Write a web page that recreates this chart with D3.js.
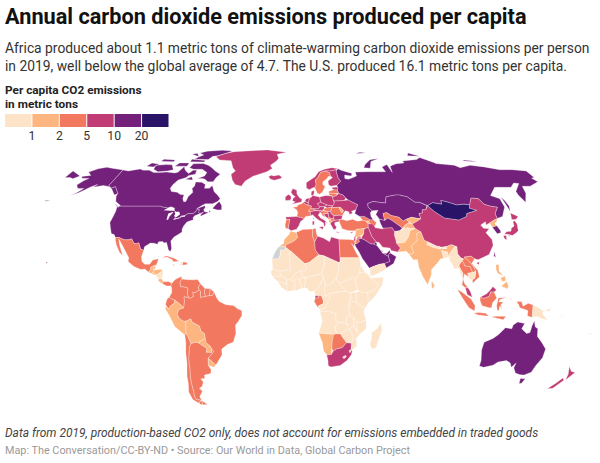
<!DOCTYPE html>
<html>
<head>
<meta charset="utf-8">
<script src="https://cdn.jsdelivr.net/npm/d3@7"></script>
<style>
  body { margin: 0; background: #fff; }
  text { font-family: Roboto, sans-serif; }
</style>
</head>
<body>
<svg id="chart" width="600" height="463"></svg>
<script>
// legend bins
const binLimits = [1, 2, 5, 10, 20];
const binColors = ['#fde3c8', '#fdb680', '#f2785f', '#c13c75', '#73217a', '#2a1467'];
const noDataColor = '#d0d3d6';

// per capita values (same order in both arrays)
const countries = [
  'USA', 'Canada', 'Greenland', 'Iceland', 'Mexico', 'Guatemala', 'Belize', 'Honduras', 'Salvador', 'Nicaragua', 'CostaRica', 'Panama', 'Cuba', 'Haiti', 'Dominican', 'Jamaica',
  'Colombia', 'Venezuela', 'Guyana', 'Suriname', 'Ecuador', 'Peru', 'Bolivia', 'Paraguay', 'Chile', 'Argentina', 'Uruguay', 'Brazil',
  'UK', 'Ireland', 'France', 'Spain', 'Portugal', 'Belgium', 'Netherlands', 'Germany', 'Denmark', 'Switzerland', 'Austria', 'Italy', 'Poland', 'Czechia', 'Slovakia', 'Hungary', 'Norway', 'Sweden', 'Finland', 'Estonia', 'Latvia', 'Lithuania', 'Belarus', 'Ukraine', 'Moldova', 'Romania', 'Bulgaria', 'Greece', 'Albania', 'Macedonia', 'Serbia', 'Montenegro', 'Bosnia', 'Croatia', 'Slovenia',
  'Turkey', 'Cyprus', 'Georgia', 'Armenia', 'Azerbaijan', 'Russia', 'Kazakhstan', 'Uzbekistan', 'Turkmenistan', 'Kyrgyzstan', 'Tajikistan', 'Afghanistan', 'Pakistan', 'Iran', 'Iraq', 'Syria', 'Jordan', 'Israel', 'Lebanon', 'SaudiArabia', 'Kuwait', 'Qatar', 'UAE', 'Oman', 'Yemen',
  'Morocco', 'WesternSahara', 'Algeria', 'Tunisia', 'Libya', 'Egypt', 'Mauritania', 'Mali', 'Senegal', 'Guinea', 'Liberia', 'IvoryCoast', 'Ghana', 'Benin', 'BurkinaFaso', 'Niger', 'Nigeria', 'Chad', 'Sudan', 'SouthSudan', 'Ethiopia', 'Eritrea', 'Somalia', 'Kenya', 'Uganda', 'Burundi', 'Tanzania', 'Cameroon', 'CAR', 'EqGuinea', 'Gabon', 'Congo', 'DRC', 'Angola', 'Zambia', 'Malawi', 'Mozambique', 'Zimbabwe', 'Botswana', 'Namibia', 'SouthAfrica', 'Lesotho', 'Eswatini', 'Madagascar',
  'China', 'Taiwan', 'Mongolia', 'NorthKorea', 'SouthKorea', 'Japan', 'India', 'Bangladesh', 'Nepal', 'Bhutan', 'SriLanka', 'Myanmar', 'Thailand', 'Laos', 'Vietnam', 'Cambodia', 'Malaysia', 'Indonesia', 'PNG', 'Philippines', 'Australia', 'NewZealand', 'Fiji', 'Solomon'
];
const co2PerCapita = [
  16.1, 15.4, 9.6, 9.9, 3.6, 1.1, 1.7, 1.1, 1.2, 0.8, 1.6, 2.6, 2.3, 0.3, 2.5, 2.7,
  2.0, 3.3, 3.0, 3.5, 2.4, 1.7, 1.9, 1.1, 4.6, 4.0, 1.9, 2.3,
  5.5, 7.8, 4.8, 5.4, 4.6, 8.3, 8.8, 8.4, 5.2, 4.3, 7.6, 5.4, 8.5, 9.4, 6.1, 4.9, 7.5, 4.0, 7.3, 8.5, 3.9, 4.4, 6.6, 5.0, 1.4, 4.0, 6.2, 5.8, 1.7, 3.4, 6.5, 4.1, 6.8, 4.4, 7.0,
  4.9, 6.1, 2.6, 1.9, 3.6, 11.4, 14.0, 3.3, 12.0, 1.6, 1.0, 0.3, 1.1, 8.5, 5.0, 1.4, 2.5, 7.0, 5.5, 18.0, 25.0, 38.0, 19.0, 15.0, 0.4,
  1.9, null, 3.9, 2.6, 8.3, 2.5, 0.9, 0.2, 0.6, 0.3, 0.3, 0.4, 0.6, 0.4, 0.2, 0.1, 0.6, 0.1, 0.5, 0.1, 0.2, 0.2, 0.1, 0.4, 0.1, 0.1, 0.2, 0.3, 0.1, 5.5, 2.8, 0.6, 0.04, 0.7, 0.4, 0.1, 0.3, 0.7, 3.0, 1.6, 7.5, 0.9, 0.9, 0.1,
  7.1, 11.0, 20.5, 1.6, 12.2, 8.7, 1.9, 0.6, 0.5, 0.9, 1.0, 0.6, 3.7, 2.6, 3.5, 0.9, 8.0, 2.3, 0.8, 1.3, 16.3, 6.9, 1.5, 0.3
];

// tick labels and texts
const legendTicks = ['1', '2', '5', '10', '20'];
const titleText = 'Annual carbon dioxide emissions produced per capita';
const subtitleLines = [
  'Africa produced about 1.1 metric tons of climate-warming carbon dioxide emissions per person',
  'in 2019, well below the global average of 4.7. The U.S. produced 16.1 metric tons per capita.'
];
const legendLines = ['Per capita CO2 emissions', 'in metric tons'];
const noteText = 'Data from 2019, production-based CO2 only, does not account for emissions embedded in traded goods';
const sourceText = 'Map: The Conversation/CC-BY-ND • Source: Our World in Data, Global Carbon Project';

// rough country outlines, lon/lat rings
const outlines = {
  USA: [
    [[-124.7,48.4],[-123,49],[-95.2,49],[-94.6,48.7],[-92,48.3],[-89.6,48],[-88.4,48.3],[-84.9,46.9],[-84.5,46.5],[-83.6,46.1],[-82.5,45.3],[-82.4,43],[-83,42.2],[-79,42.8],[-79,43.3],[-76.5,43.6],[-76.3,44.2],[-74.7,45],[-71.5,45],[-70.3,45.9],[-69.2,47.4],[-68,47.3],[-67.8,45.7],[-67,44.9],[-70,43.8],[-70.7,42.7],[-70,41.7],[-72,41.2],[-74,40.6],[-75.4,38.5],[-75.9,36.8],[-75.5,35.3],[-77.9,33.9],[-79.9,32.7],[-81.4,30.7],[-80,26.8],[-80.4,25.2],[-81.8,26],[-82.8,28],[-84,30.1],[-85.3,29.7],[-86.5,30.4],[-89,30.3],[-89.4,29],[-91.5,29.5],[-94,29.6],[-97.2,27.7],[-97.2,25.9],[-99.2,26.4],[-101.4,29.8],[-102.8,29.2],[-104.5,29.6],[-106.5,31.8],[-108.2,31.3],[-111,31.3],[-114.8,32.5],[-117.1,32.5],[-118.5,34],[-120.6,34.6],[-122.5,37.5],[-124.3,40.3],[-124,43],[-124,46.2]],
    [[-141,69.6],[-141,60.3],[-137.5,58.9],[-135.5,59.8],[-133.5,58.4],[-130,55.9],[-131.7,55],[-134,56.5],[-136.5,58.2],[-140,59.7],[-145,60.4],[-148,60],[-151.5,59.3],[-150,61],[-153.5,59.5],[-156,57.8],[-158.5,56.2],[-163,54.8],[-160,56.3],[-157.5,58.7],[-162,58.7],[-165,60.6],[-163,63.2],[-161,64.5],[-166.5,64.6],[-168,65.7],[-162,66.3],[-166.5,68.3],[-162,70.3],[-156.5,71.3],[-150,70.5],[-145,70]],
    [[-155.9,19.9],[-155,19.6],[-155.6,19]],
    [[-170,52.8],[-166,53.7],[-168,53.2]],
    [[-178,51.8],[-174,52.2],[-176,51.6]]
  ],
  Canada: [
    [[-141,69.6],[-136,69],[-133,69.5],[-128,70.2],[-125,69.5],[-120,69.5],[-115,68],[-110,68],[-105,68.3],[-98,67.8],[-96,68.2],[-94,71.8],[-92,70],[-90,68.8],[-87,67.5],[-85,69.5],[-82,69.5],[-81.5,67],[-86,66.3],[-87,65],[-92,63.5],[-94,61],[-94.5,58.8],[-92.5,57],[-88,56.5],[-85,55.3],[-82.3,55.1],[-82,53],[-80.5,51.3],[-79,51.5],[-78.8,54],[-76.7,56.5],[-78.5,58.7],[-77.5,60],[-78,62.4],[-73.5,62.3],[-70,61],[-69.5,58.8],[-66,58.8],[-64.5,60.3],[-61.5,56.8],[-58,54.8],[-55.8,53],[-57,51.5],[-60,50.2],[-65,50.3],[-67,49.3],[-70,47.5],[-65,49.2],[-64.3,48.3],[-65,47],[-64,46],[-61,45.5],[-61,46.8],[-60,46],[-63.5,44.6],[-66,43.6],[-66,44.6],[-64.5,45.8],[-67,44.9],[-67.8,45.7],[-68,47.3],[-69.2,47.4],[-70.3,45.9],[-71.5,45],[-74.7,45],[-76.3,44.2],[-76.5,43.6],[-79,43.3],[-79,42.8],[-83,42.2],[-82.4,43],[-82.5,45.3],[-83.6,46.1],[-84.5,46.5],[-84.9,46.9],[-88.4,48.3],[-89.6,48],[-92,48.3],[-94.6,48.7],[-95.2,49],[-123,49],[-123,49.3],[-125,50.2],[-127.8,51.5],[-130,54.5],[-130,55.9],[-133.5,58.4],[-135.5,59.8],[-137.5,58.9],[-141,60.3]],
    [[-80,73.7],[-75,72.5],[-71,71],[-67,69],[-62,67],[-64,65],[-65,62.5],[-69,62.5],[-72,64],[-74,64.5],[-78,64.5],[-73.5,66],[-73,68],[-78,70],[-85,70],[-89,71],[-88,73.5]],
    [[-117,70],[-112,68.5],[-105,69],[-101,69.7],[-105,72.8],[-110,73],[-118,72.5]],
    [[-125,72],[-123,74],[-116,73.2],[-119,71.5]],
    [[-90,76.5],[-78,76.3],[-76,78.5],[-72,79],[-64,81.5],[-62,82.5],[-72,83.1],[-85,82.4],[-90,81],[-85,79.5],[-88,78]],
    [[-92,74.8],[-80,74.6],[-80,75.7],[-92,76.5]],
    [[-117,75.2],[-106,74.9],[-106,76],[-116,76.5]],
    [[-96,80],[-88,78.3],[-92,80.7]],
    [[-102,72],[-92,72],[-92,74],[-100,74]],
    [[-87,64],[-81,63.5],[-83,65.5]],
    [[-59.3,47.7],[-55.5,46.9],[-52.8,47],[-53.5,49.3],[-55.8,51.5],[-57.5,50]],
    [[-128.3,50.7],[-123.5,48.4],[-125,48.8]]
  ],
  Greenland: [[[-73,78.2],[-68,76],[-58,75.5],[-54,71],[-51,69],[-53.5,67],[-51,63.5],[-48,61],[-43,60],[-41,63],[-36,65.8],[-26,68.5],[-22,70.5],[-24,72.5],[-20,75],[-18,77],[-20,80],[-12,81.5],[-30,83.5],[-45,82.8],[-60,82],[-65,81],[-68,80]]],
  Iceland: [[[-24,65.5],[-22,64],[-19,63.4],[-14.5,64.4],[-13.5,65.2],[-16,66.5],[-20,66],[-22,66.4]]],
  Mexico: [[[-117.1,32.5],[-114.8,32.5],[-111,31.3],[-108.2,31.3],[-106.5,31.8],[-104.5,29.6],[-102.8,29.2],[-101.4,29.8],[-99.2,26.4],[-97.2,25.9],[-97.8,22.5],[-97,20],[-95,18.6],[-92,18.6],[-90.5,20.8],[-87,21.5],[-87.8,18.3],[-89,17.9],[-91,17.2],[-91,16],[-92.2,14.5],[-94.5,16.2],[-97,15.9],[-101.5,17.5],[-105.5,20],[-105.5,22],[-109,26],[-112.8,30],[-114.7,31.7],[-113,28.5],[-109.5,23],[-112,24.8],[-115,28.5],[-116.5,31]]],
  Guatemala: [[[-92.2,14.5],[-91,16],[-91,17.2],[-89.2,17.8],[-89.2,15.9],[-88.2,15.7],[-89.3,14.4],[-90.2,13.8]]],
  Belize: [[[-89.2,17.8],[-88.2,18.4],[-88.2,16],[-89.2,15.9]]],
  Honduras: [[[-89.2,15],[-88.2,15.7],[-85,16],[-83.2,15],[-84.5,14.7],[-87,13],[-87.8,13.3],[-89.3,14.4]]],
  Salvador: [[[-90.2,13.8],[-89.3,14.4],[-87.8,13.3],[-88.5,13.1]]],
  Nicaragua: [[[-87,13],[-84.5,14.7],[-83.2,15],[-83.6,11],[-85.7,11],[-87.5,12.8]]],
  CostaRica: [[[-85.7,11],[-83.6,11],[-82.6,9.5],[-83,8.3],[-85.7,9.9]]],
  Panama: [[[-83,8.3],[-82.6,9.5],[-79.5,9.6],[-77.4,8.7],[-78,7.3],[-80.5,7.3],[-81.5,7.8]]],
  Cuba: [[[-85,21.9],[-82.5,23.1],[-77,21.6],[-74.2,20.2],[-77.7,19.9],[-78.5,21],[-82,22.4]]],
  Haiti: [[[-74.4,18.4],[-71.7,18.1],[-71.7,19.8],[-73.4,19.9],[-72.7,18.9]]],
  Dominican: [[[-71.7,18.1],[-68.4,18.6],[-69.9,19.7],[-71.7,19.8]]],
  Jamaica: [[[-78.3,18.3],[-76.3,18],[-77.2,18.5]]],
  Colombia: [[[-77.4,8.7],[-75.5,10.7],[-72,12.2],[-71.3,11.5],[-72.5,9],[-72,7],[-70,6.9],[-67.5,6.2],[-67.8,3.5],[-67,1.2],[-69.8,1.7],[-69.5,-0.5],[-70,-4.2],[-72,-2.4],[-75.3,-0.1],[-77,0.4],[-78.8,1.4],[-77.2,3.8],[-77.4,6.5],[-78,7.3]]],
  Venezuela: [[[-72,12.2],[-71.5,10.9],[-68,10.6],[-64,10.5],[-61.9,10.7],[-60,8.5],[-61.3,6.7],[-60.7,5.2],[-63,3.8],[-64.5,4],[-64,1.8],[-66.3,0.8],[-67,1.2],[-67.8,3.5],[-67.5,6.2],[-70,6.9],[-72,7],[-72.5,9],[-71.3,11.5]]],
  Guyana: [[[-60,8.5],[-57.2,6],[-57.5,3.3],[-56.5,1.9],[-59.8,1.3],[-60,3],[-59.8,4.5],[-60.7,5.2],[-61.3,6.7]]],
  Suriname: [[[-57.2,6],[-54,5.9],[-54.4,2.3],[-56.5,1.9],[-57.5,3.3]]],
  Ecuador: [[[-78.8,1.4],[-77,0.4],[-75.3,-0.1],[-75.5,-1.5],[-78.3,-3.4],[-79,-5],[-80.3,-3.4],[-81,-2.2],[-80,0.5]]],
  Peru: [[[-81.3,-4.5],[-80.3,-3.4],[-79,-5],[-78.3,-3.4],[-75.5,-1.5],[-75.3,-0.1],[-72,-2.4],[-70,-4.2],[-73,-5],[-74,-7.3],[-73,-9.5],[-70.6,-11],[-69,-11],[-69.4,-15.5],[-69.5,-17.5],[-70.4,-18.3],[-76,-14],[-79,-8]]],
  Bolivia: [[[-69,-11],[-66,-9.8],[-65.3,-11.5],[-61,-13.5],[-60.2,-16.3],[-58.2,-17.5],[-58,-20],[-62.7,-22.2],[-65,-22.1],[-67.2,-22.8],[-68.5,-19.5],[-69.5,-17.5],[-69.4,-15.5]]],
  Paraguay: [[[-58,-20],[-57.8,-22.2],[-55.5,-24],[-54.6,-25.5],[-55,-27.3],[-58.5,-27.2],[-57.7,-25.3],[-62.7,-22.2]]],
  Chile: [
    [[-70.4,-18.3],[-69.5,-17.5],[-68.5,-19.5],[-67.2,-22.8],[-68.4,-24.5],[-69.8,-30],[-70.3,-33],[-70.5,-36],[-71.5,-40],[-71.8,-44],[-72,-48],[-72.5,-50],[-72,-52],[-69,-52.3],[-71,-54],[-74.5,-52],[-75.5,-48],[-74,-43.5],[-73.5,-39.5],[-71.7,-33],[-71.3,-28],[-70.3,-22]],
    [[-68.6,-52.6],[-68.6,-54.9],[-71,-54.5],[-70,-53]]
  ],
  Argentina: [
    [[-65,-22.1],[-62.7,-22.2],[-57.7,-25.3],[-58.5,-27.2],[-55,-27.3],[-54.6,-25.5],[-53.7,-26.9],[-57.6,-30.2],[-58.3,-34],[-57,-36.3],[-57.7,-38.2],[-62,-39],[-62.3,-40.8],[-65,-41],[-63.8,-42.6],[-65.3,-45],[-67.5,-46],[-66,-47.5],[-69,-50.5],[-68.4,-52.3],[-72,-52],[-72.5,-50],[-72,-48],[-71.8,-44],[-71.5,-40],[-70.5,-36],[-70.3,-33],[-69.8,-30],[-68.4,-24.5],[-67.2,-22.8]],
    [[-68.6,-52.6],[-65.2,-54.7],[-68.6,-54.9]]
  ],
  Uruguay: [[[-57.6,-30.2],[-53.4,-33.8],[-54.9,-35],[-58.3,-34]]],
  Brazil: [[[-51.7,4.2],[-50,1],[-48.5,-0.8],[-44.5,-2.5],[-40,-2.9],[-37,-4.8],[-35,-5.5],[-34.9,-8],[-37,-11],[-39,-13],[-39,-17.5],[-41,-22],[-44.5,-23.1],[-48.5,-25.5],[-48.7,-28.5],[-52,-32.3],[-53.4,-33.8],[-57.6,-30.2],[-53.7,-26.9],[-54.6,-25.5],[-55.5,-24],[-57.8,-22.2],[-58,-20],[-58.2,-17.5],[-60.2,-16.3],[-61,-13.5],[-65.3,-11.5],[-66,-9.8],[-69,-11],[-70.6,-11],[-73,-9.5],[-74,-7.3],[-73,-5],[-70,-4.2],[-69.5,-0.5],[-69.8,1.7],[-67,1.2],[-66.3,0.8],[-64,1.8],[-64.5,4],[-63,3.8],[-60.7,5.2],[-59.8,4.5],[-60,3],[-59.8,1.3],[-56.5,1.9],[-54.4,2.3],[-52.8,2.3]]],
  UK: [[[-5.5,50],[1.3,51.2],[1.7,52.7],[0,53.5],[-1.6,55.2],[-2,56],[-2,57.6],[-5,58.6],[-6.2,56.5],[-4.8,55],[-3,54],[-4.5,53.3],[-5,51.7],[-3,51.3]]],
  Ireland: [[[-10,52],[-6.3,52.2],[-6,53.5],[-6.2,54.5],[-8,55.3],[-10,54]]],
  France: [
    [[-1.8,43.4],[3.1,42.4],[4,43.5],[7.5,43.8],[7,45.9],[6,46.3],[7.6,47.6],[8.2,49],[6,49.5],[4.2,50],[2.5,51],[1.5,50.2],[-1.3,49.6],[-1.6,48.6],[-4.7,48.4],[-2,47],[-1.2,45.5]],
    [[8.7,42.5],[9.5,43],[9.3,41.5]],
    [[-54,5.9],[-51.7,4.2],[-52.8,2.3],[-54.4,2.3]]
  ],
  Spain: [[[-9.2,43.2],[-1.8,43.4],[3.1,42.4],[0.5,40.7],[-0.4,38.7],[-2,36.8],[-5.5,36],[-7.4,37.2],[-7,39.5],[-6.5,41.9],[-8.8,41.9]]],
  Portugal: [[[-8.8,41.9],[-6.5,41.9],[-7,39.5],[-7.4,37.2],[-8.9,37],[-9.5,38.8]]],
  Belgium: [[[2.5,51],[4.2,51.4],[6,50.8],[6,49.5],[4.2,50]]],
  Netherlands: [[[3.5,51.4],[4.7,53],[7.1,53.4],[6,50.8],[4.2,51.4]]],
  Germany: [[[6,50.8],[7.1,53.4],[8.8,54],[8.6,54.9],[11,54.4],[14.2,53.9],[14.7,51],[12.2,50.3],[13.8,48.7],[13,47.5],[7.6,47.6],[8.2,49],[6,49.5]]],
  Denmark: [[[8.2,55.5],[8.6,57],[10.6,57.7],[10.3,56],[9.7,54.9],[8.6,54.9]]],
  Switzerland: [[[6,46.3],[7,45.9],[10.4,46.5],[9.6,47.5],[7.6,47.6]]],
  Austria: [[[9.6,47.5],[13,47.5],[13.8,48.7],[17,48.7],[16.2,46.8],[13.7,46.5],[10.4,46.9]]],
  Italy: [
    [[7,45.9],[7.5,43.8],[8.8,44.4],[10.3,43],[12.3,41.7],[15.7,40],[16,38],[17,39.2],[16.8,40.5],[18.4,40],[16,41.8],[14,42.5],[12.4,44.3],[13.7,45.6],[13.7,46.5],[10.4,46.5]],
    [[12.5,38],[15.6,38.2],[15,36.7]],
    [[8.3,41],[9.7,41],[9.5,39.1],[8.5,39]]
  ],
  Poland: [[[14.2,53.9],[18.5,54.8],[23,54.4],[24,50.5],[22.7,49.1],[18.8,49.5],[14.7,51]]],
  Czechia: [[[12.2,50.3],[14.7,51],[18.8,49.6],[17,48.7],[13.8,48.7]]],
  Slovakia: [[[17,48.7],[18.8,49.5],[22.5,49.1],[22.1,48.4],[18.8,47.9]]],
  Hungary: [[[16.2,46.8],[17,48],[18.8,47.9],[22.1,48.4],[21,46.2],[18.8,45.9]]],
  Norway: [[[5,59],[7,58],[10.5,59.3],[11.2,59],[12.3,61],[12,63.5],[14,65],[16.5,68],[20.5,69],[25,69],[29,69.7],[31,70.3],[26,71],[20,70],[15,68.5],[12,65.5],[8,63.5],[5,62]]],
  Sweden: [[[11.2,59],[12.7,56],[14.3,55.5],[16.5,56.7],[18.8,59.8],[17.2,61],[17.5,62.5],[21,64.5],[22,65.7],[24,65.8],[23.5,68],[20.5,69],[16.5,68],[14,65],[12,63.5],[12.3,61]]],
  Finland: [[[24,65.8],[25.3,65],[21.5,63],[21.5,61],[23,60],[27.5,60.5],[31,62.8],[29.5,65],[29,69],[29,69.7],[25,69],[20.5,69],[23.5,68]]],
  Estonia: [[[23.5,59.2],[28,59.5],[27.5,57.6],[24.5,58]]],
  Latvia: [[[21,57],[24.5,58],[27.5,57.6],[28,56],[26,55.8],[21,56]]],
  Lithuania: [[[21,56],[26,55.8],[26.7,55],[24,54],[23,54.4],[21,55]]],
  Belarus: [[[24,54],[26.7,55],[28,56],[31,55],[32.5,53.3],[31,52],[24,51.7],[23.5,52.5],[23,54.4]]],
  Ukraine: [[[24,50.5],[24,51.7],[31,52],[34,52.3],[40,49.7],[38.2,47.1],[35,46.2],[35.5,45.2],[33.5,44.5],[33,46],[30.7,46.5],[29.7,45.3],[28.2,45.5],[29.8,46.5],[28,48.2],[26.6,48.3],[22.7,48.2],[22.1,48.4],[22.7,49.1]]],
  Moldova: [[[26.6,48.3],[28,48.2],[29.8,46.5],[28.2,45.5]]],
  Romania: [[[22.1,48.4],[22.7,48.2],[26.6,48.3],[28.2,45.5],[29.7,45.3],[28.6,43.8],[27,44.1],[22.8,43.9],[21,45],[21,46.2]]],
  Bulgaria: [[[22.8,43.9],[27,44.1],[28.6,43.8],[27.7,42],[26.3,41.8],[22.9,41.4],[22.5,42.5]]],
  Greece: [
    [[20,39.7],[21,40.8],[22.9,41.4],[26.3,41.8],[26,40.8],[23,40.3],[23,39],[24,38],[23,36.5],[21.7,36.9],[21,38.3]],
    [[23.6,35.5],[26.3,35.2],[24,35]]
  ],
  Albania: [[[19.3,42],[20.5,42.3],[21,40.8],[20,39.7],[19.3,40.5]]],
  Macedonia: [[[20.5,42.3],[22.5,42.5],[22.9,41.4],[21,40.8]]],
  Serbia: [[[18.8,45.9],[21,46.2],[21,45],[22.8,43.9],[22.5,42.5],[20.5,42.3],[19.3,43.5],[19.2,44.9]]],
  Montenegro: [[[18.5,42.5],[19.3,43.5],[20.5,42.3],[19.3,42]]],
  Bosnia: [[[15.8,45.2],[19.2,44.9],[19.3,43.5],[18.5,42.5],[17.5,43]]],
  Croatia: [[[13.7,45.6],[15.7,46.5],[18.8,45.9],[19.2,44.9],[15.8,45.2],[17.5,43],[18.5,42.5],[15.2,44],[14.5,45.2]]],
  Slovenia: [[[13.7,45.6],[13.7,46.5],[16.2,46.8],[15.7,46.5]]],
  Turkey: [[[26.3,41.8],[28,42],[31,41.2],[35,42],[38,41],[41.5,41.5],[43.5,41.1],[44.8,39.7],[44.5,37.7],[42.3,37.2],[36.5,36.7],[36,36],[32.5,36],[30.5,36.3],[27.5,37],[26.5,39.5],[26,40.8]]],
  Cyprus: [[[32.3,35],[34.5,35.6],[33.5,34.7]]],
  Georgia: [[[40,43.5],[43,43.5],[46.5,41.8],[45.5,41],[43.5,41.1],[41.5,41.5]]],
  Armenia: [[[43.5,41.1],[45.5,41],[46.5,39],[44.8,39.7]]],
  Azerbaijan: [[[45.5,41],[46.5,41.8],[48.5,41.8],[50.3,40.3],[49,38.4],[46.5,39]]],
  Russia: [
    [[27.5,60.5],[31,62.8],[29.5,65],[29,69],[31,70.3],[33,69.4],[41,67.5],[40,66],[35,66.5],[34.5,64.5],[37,64],[40,64.7],[44,66],[44,68.3],[54,68.5],[60,68.5],[68,68.5],[67,71.5],[72,73],[73,68],[74,72],[80,73.5],[87,74],[87,75.3],[100,76.3],[104,77.7],[113,74],[113,73.7],[127,72.5],[130,71],[140,72.5],[150,71.5],[160,69.7],[170,69.8],[180,69],[180,65],[177.5,64.7],[179,62.5],[170,60],[164,59.9],[163,58],[162,56],[156.7,51],[155.5,55],[156,57],[163.5,61.5],[160,61.8],[155,59.3],[143,59.3],[135.5,54.7],[140.5,53],[140,48.5],[135,43.5],[131,42.5],[130.7,42.3],[131,45],[135,48.4],[130.7,48.9],[127,50],[125.5,53],[120.5,53.3],[117,49.7],[113,50],[108,49.6],[102,51.3],[98.5,52],[98,50],[92,50.8],[87.8,49.2],[83,51],[80,51],[76,54],[71,55],[68,55],[61,54],[59.5,50.6],[55,51],[51,51.5],[47,50.3],[46.8,48.4],[49,46.5],[47.5,45.5],[47.5,43.5],[48.5,41.8],[46.5,41.8],[43,43.5],[40,43.5],[37,45],[38.2,47.1],[40,49.7],[34,52.3],[32.5,53.3],[31,55],[28,56],[27.5,57.6],[28,59.5]],
    [[-180,69],[-175,67.5],[-170,66],[-173,64.3],[-176,65],[-180,65]],
    [[142,54],[143,52],[143.5,49],[142,46],[142,50]],
    [[52,71],[57,70.7],[60,75],[68,77],[60,76.2],[54,73]],
    [[138,75.5],[145,75],[150,75],[140,76]],
    [[95,79],[105,78.5],[98,81]],
    [[50,80.5],[60,81],[55,81.5]]
  ],
  Kazakhstan: [[[47,50.3],[51,51.5],[55,51],[59.5,50.6],[61,54],[68,55],[71,55],[76,54],[80,51],[83,51],[87.3,49.2],[85.5,47],[83,47],[82.5,45.3],[80,45],[80.2,42.2],[74,43],[70.5,42],[68,41],[66,43],[61,44],[58.5,45.5],[56,45],[56,41.3],[53,42],[52.8,42],[51,44.5],[53,46.7],[49,46.5],[46.8,48.4]]],
  Uzbekistan: [[[56,41.3],[56,45],[58.5,45.5],[61,44],[66,43],[68,41],[70.5,42],[71.5,41],[73,40.5],[71,40],[68,38.5],[67,37.3],[64.5,38.8],[61,41.2],[58.5,42.7]]],
  Turkmenistan: [[[52.5,41.5],[53,42],[56,41.3],[58.5,42.7],[61,41.2],[64.5,38.8],[66.5,37.4],[64.5,36],[61,35.6],[60,37.5],[53.9,37.3],[53,39.5]]],
  Kyrgyzstan: [[[70.5,42],[74,43],[80.2,42.2],[76,40.4],[73.5,39.5],[71,40],[73,40.5],[71.5,41]]],
  Tajikistan: [[[68,38.5],[71,40],[73.5,39.5],[75,37.3],[71.5,37],[70,37.6],[67.8,37.2]]],
  Afghanistan: [[[60.5,33.7],[61,35.6],[64.5,36],[67,37.3],[70,37.6],[71.5,37],[74.8,37.2],[71,36],[69.5,33],[66.3,29.9],[61,29.5],[60.9,31.5]]],
  Pakistan: [[[61,25],[66.5,25.4],[68,23.7],[71,24.5],[70,28],[74.5,31],[75,34.5],[77.8,35.5],[74.8,37.2],[71,36],[69.5,33],[66.3,29.9],[61,29.5],[63,27]]],
  Iran: [[[44.8,39.7],[48,39.5],[49,37.6],[53.9,36.9],[53.9,37.3],[60,37.5],[61,35.6],[60.5,33.7],[60.9,31.5],[61,29.5],[63,27],[61,25],[57,25.8],[56.5,27],[52,27.5],[50,30],[48.5,30],[46,33],[45,36],[44.5,37.7]]],
  Iraq: [[[42.3,37.2],[44.5,37.7],[45,36],[46,33],[48.5,30],[47.7,30],[47,29],[44.7,29.2],[41,31.3],[39,32],[41,34.5],[41.3,36.5]]],
  Syria: [[[36,36],[36.5,36.7],[42.3,37.2],[41.3,36.5],[41,34.5],[38.8,33.4],[36.5,32.4],[35.7,33.3]]],
  Jordan: [[[35,29.5],[36.5,32.4],[38.8,33.4],[39,32],[37,31.5],[38,30.5],[36,29.3]]],
  Israel: [[[34.3,31.2],[35,33],[35.7,33.3],[35,29.5]]],
  Lebanon: [[[35,33],[35.7,33.3],[36,34.6]]],
  SaudiArabia: [[[34.8,29.3],[36,29.3],[38,30.5],[37,31.5],[39,32],[41,31.3],[44.7,29.2],[47,29],[48.5,28.4],[50,26.5],[51.5,24.5],[55,22.7],[55.5,20],[52,19],[49,18.6],[45,17.4],[43,16.7],[42.7,16.5],[40,20],[38.8,21.5],[37,25],[35,28]]],
  Kuwait: [[[47,29],[47.7,30],[48.5,29.5],[48.5,28.4]]],
  Qatar: [[[51,25],[51.3,26.1],[51.6,25]]],
  UAE: [[[51.5,24.5],[54,24.2],[56.3,26],[56.3,24.5],[55.5,24],[55,22.7]]],
  Oman: [[[55,22.7],[55.5,24],[56.3,24.5],[59.8,22.5],[57.7,19],[53,16.7],[52,19],[55.5,20]]],
  Yemen: [[[43,12.7],[45,12.8],[52,15.7],[53,16.7],[52,19],[49,18.6],[45,17.4],[43,16.7]]],
  Morocco: [[[-5.9,35.8],[-2.2,35.1],[-1.2,32.6],[-3,31],[-5,30],[-8.7,28.7],[-8.7,27.7],[-13,27.7],[-10,29.5],[-9.7,31.5],[-6.8,34]]],
  WesternSahara: [[[-13,27.7],[-8.7,27.7],[-8.7,26],[-12,26],[-12,23.4],[-13,21.4],[-17,21.4],[-16,23.5],[-14.5,26.2]]],
  Algeria: [[[-2.2,35.1],[2,36.6],[8.6,36.9],[8.2,33.5],[9.5,30.2],[9.8,26],[12,23.5],[5.8,19.5],[3.3,19],[3.2,18.9],[-4.9,25],[-8.7,27.3],[-8.7,28.7],[-5,30],[-3,31],[-1.2,32.6]]],
  Tunisia: [[[8.6,36.9],[10.5,37.3],[10.8,34.3],[11.5,33.2],[9.5,30.2],[8.2,33.5]]],
  Libya: [[[11.5,33.2],[15,32.3],[19,30.3],[20,32.8],[25,31.6],[25,20],[24,19.5],[15,23],[12,23.5],[9.8,26],[9.5,30.2]]],
  Egypt: [[[25,31.6],[31,31.5],[34.3,31.2],[34.9,29.5],[34,27.8],[32.7,29.5],[35.5,24],[37,22],[25,22]]],
  Mauritania: [[[-17,21.4],[-13,21.4],[-12,23.4],[-12,26],[-8.7,26],[-8.7,27.3],[-4.9,25],[-6.5,25],[-5.5,15.5],[-9.5,15.5],[-12.2,14.8],[-16.5,16]]],
  Mali: [[[-12.2,14.8],[-9.5,15.5],[-5.5,15.5],[-6.5,25],[-4.9,25],[3.2,18.9],[4.2,16.9],[3.5,15.3],[0.2,15],[-2,14.2],[-5.5,10.5],[-8,10.3],[-8.5,11.5],[-11.4,12.4]]],
  Senegal: [[[-16.5,16],[-12.2,14.8],[-11.4,12.4],[-16.7,12.4],[-17.5,14.7]]],
  Guinea: [[[-16.7,12.4],[-11.4,12.4],[-8.5,11.5],[-8,10.3],[-7.8,8.5],[-9.5,8.5],[-10.7,9.3],[-13.2,9.5],[-15,11]]],
  Liberia: [[[-13.2,9.5],[-10.7,9.3],[-9.5,8.5],[-7.8,8.5],[-7.5,4.4],[-11,6.6]]],
  IvoryCoast: [[[-8,10.3],[-5.5,10.5],[-2.8,9.7],[-2.9,5.1],[-7.5,4.4],[-7.8,8.5]]],
  Ghana: [[[-2.8,11],[0,11],[1.2,6.1],[-2,4.8],[-2.9,5.1],[-2.8,9.7]]],
  Benin: [[[0,11],[2.5,12],[3.8,10.5],[2.7,6.3],[1.2,6.1]]],
  BurkinaFaso: [[[-5.5,10.5],[-2,14.2],[0.2,15],[2.5,12],[0,11],[-2.8,11],[-2.8,9.7]]],
  Niger: [[[3.5,15.3],[4.2,16.9],[3.2,18.9],[5.8,19.5],[12,23.5],[15,23],[15.5,20],[13.5,13.7],[9,12.8],[3.8,11.7],[2.5,12],[0.2,15]]],
  Nigeria: [[[2.7,6.3],[3.8,10.5],[3.8,11.7],[9,12.8],[13.5,13.7],[14.5,11.5],[11.5,6.7],[8.6,4.7],[6,4.3],[4.5,6.3]]],
  Chad: [[[15,23],[24,19.5],[24,15.7],[22,11],[18.7,8],[15.5,7.6],[14.5,11.5],[13.5,13.7],[15.5,20]]],
  Sudan: [[[25,22],[37,22],[37.5,18.5],[36.5,14.3],[34,10.5],[32.5,11.7],[27,9.6],[24,8.7],[22,11],[24,15.7],[24,19.5],[25,20]]],
  SouthSudan: [[[24,8.7],[27,9.6],[32.5,11.7],[34,10.5],[34,8.5],[35,5.4],[31,3.7],[28,4.5]]],
  Ethiopia: [[[36.5,14.3],[39,14.6],[42.4,12.5],[43,11.5],[48,8],[45,5],[42,4.2],[39,3.5],[36,4.5],[35,5.4],[34,8.5],[34,10.5]]],
  Eritrea: [[[37.5,18.5],[39,15.5],[43,12.5],[42.4,12.5],[39,14.6],[36.5,14.3]]],
  Somalia: [[[43,11.5],[51,11.9],[50,8],[46,2.5],[41.5,-1.7],[41,4],[42,4.2],[45,5],[48,8]]],
  Kenya: [[[34,4.2],[36,4.5],[39,3.5],[41,4],[41.5,-1.7],[39.3,-4.7],[37.7,-3.5],[34,-1],[34.5,1]]],
  Uganda: [[[31,3.7],[34,4.2],[34.5,1],[34,-1],[30,-1],[31,2.3]]],
  Burundi: [[[29,-1.2],[30.8,-1.2],[30.5,-2.5],[29.2,-4.5]]],
  Tanzania: [[[30,-1],[34,-1],[37.7,-3.5],[39.3,-4.7],[38.8,-6.5],[40.4,-10.4],[37,-11.6],[34.8,-11.5],[32.7,-9.3],[30.5,-8],[29.2,-4.5],[30.5,-2.5]]],
  Cameroon: [[[8.6,4.7],[11.5,6.7],[14.5,11.5],[15.5,7.6],[15,4],[16,2],[9.8,2.2]]],
  CAR: [[[15,4],[15.5,7.6],[18.7,8],[22,11],[24,8.7],[28,4.5],[22.5,4.1],[18.5,3.6],[16,2]]],
  EqGuinea: [[[9.4,2.2],[11.3,2.2],[11.3,1],[9.4,1]]],
  Gabon: [[[9.4,1],[11.3,1],[11.3,2.2],[13.3,2.2],[14.4,-0.5],[14.3,-2],[11.5,-3],[11,-3.9],[8.8,-0.8]]],
  Congo: [[[13.3,2.2],[16,2],[18.5,3.6],[17.7,-0.5],[16,-3],[15.3,-4.3],[12.3,-5],[11,-3.9],[11.5,-3],[14.3,-2],[14.4,-0.5]]],
  DRC: [[[18.5,3.6],[22.5,4.1],[28,4.5],[31,3.7],[31,2.3],[30,-1],[29.2,-4.5],[30.5,-8],[28.5,-9],[28.5,-12],[29.8,-13.4],[27,-11.8],[24,-11.8],[22,-11],[21.8,-7.2],[17.5,-5.9],[16.5,-5.9],[12.3,-6],[12.3,-5],[15.3,-4.3],[16,-3],[17.7,-0.5]]],
  Angola: [[[12.3,-6],[16.5,-5.9],[17.5,-5.9],[21.8,-7.2],[22,-11],[24,-11.8],[22,-13],[22,-16],[23.4,-17.6],[21,-18],[13.9,-17.4],[11.7,-17.3],[13.8,-11],[13,-8.5]]],
  Zambia: [[[22,-13],[24,-11.8],[27,-11.8],[29.8,-13.4],[28.5,-12],[28.5,-9],[30.5,-8],[32.7,-9.3],[33,-13.5],[30.5,-15],[28,-16],[25.3,-17.8],[23.4,-17.6],[22,-16]]],
  Malawi: [[[32.7,-9.3],[34.8,-11.5],[35,-14],[35.3,-17],[33,-13.5]]],
  Mozambique: [[[34.8,-11.5],[37,-11.6],[40.4,-10.4],[40.6,-15],[36.8,-18],[34.8,-20],[35.5,-24],[32.9,-26],[32,-26],[32,-22.5],[33,-19.5],[30.5,-15],[33,-13.5],[35.3,-17],[35,-14]]],
  Zimbabwe: [[[25.3,-17.8],[28,-16],[30.5,-15],[33,-19.5],[32,-22.5],[29,-22.2],[26,-19]]],
  Botswana: [[[20,-18],[23.4,-17.6],[25.3,-17.8],[26,-19],[29,-22.2],[26.5,-24.8],[23,-25.5],[20.8,-26.8],[20,-24.8],[20,-22]]],
  Namibia: [[[11.7,-17.3],[13.9,-17.4],[21,-18],[20,-22],[20,-28.4],[17,-28.5],[15,-26.5],[14,-22]]],
  SouthAfrica: [[[17,-28.5],[20,-28.4],[20.8,-26.8],[23,-25.5],[26.5,-24.8],[29,-22.2],[32,-22.5],[32,-26],[32.9,-26.5],[32.5,-28.5],[30,-31.5],[26,-34],[20,-34.8],[18.3,-34],[18,-31.5]]],
  Lesotho: [[[27,-29.7],[29,-28.7],[29.4,-29.6],[28,-30.6]]],
  Eswatini: [[[31,-26],[32,-26],[32,-27.2],[31,-27.2]]],
  Madagascar: [[[49.3,-12],[50.4,-15.5],[47.5,-24.8],[45,-25.5],[43.5,-23],[44.3,-20],[44,-17],[47,-15.3]]],
  China: [
    [[73.5,39.5],[76,40.4],[80.2,42.2],[80,45],[82.5,45.3],[83,47],[85.5,47],[87.8,49.2],[91,46],[96,42.7],[105,41.6],[111,43.5],[112,45],[119.7,46.7],[115.5,47.8],[117,49.7],[120.5,53.3],[125.5,53],[127,50],[130.7,48.9],[135,48.4],[131,45],[130.7,42.3],[128,41.5],[124.3,40],[121.5,39],[122,40.7],[118,39],[119,37.3],[122.5,37],[119.5,35],[121.9,31.5],[121.5,28.5],[117.5,23.7],[113.5,22.2],[110,21],[108,21.5],[106,22.8],[102,22.4],[101.5,21.2],[99.5,22],[98,24],[98.5,27.7],[95.5,28.8],[92,27.8],[89,27.5],[86,28],[81,30.2],[78.8,31],[77.8,35.5],[74.8,37.2]],
    [[108.7,19.2],[110.5,20],[110,18.4]]
  ],
  Taiwan: [[[120.2,23],[121.5,25.2],[121,22]]],
  Mongolia: [[[87.8,49.2],[92,50.8],[98,50],[98.5,52],[102,51.3],[108,49.6],[113,50],[117,49.7],[115.5,47.8],[119.7,46.7],[112,45],[111,43.5],[105,41.6],[96,42.7],[91,46]]],
  NorthKorea: [[[124.3,40],[128,41.5],[130.7,42.3],[129.7,41],[127.5,39.7],[128.3,38.6],[125,37.8]]],
  SouthKorea: [[[125,37.8],[128.3,38.6],[129.4,36],[129,35],[126.5,34.4]]],
  Japan: [
    [[131,34.3],[133,35.5],[136,35.8],[137,37.3],[139.5,38.5],[140,40.5],[141.4,41.3],[142,39.5],[140.8,36],[139,35],[135.7,33.5],[133,34.2]],
    [[140,41.8],[141.5,45.3],[145.3,43.5],[143,42]],
    [[130,33.5],[131.9,33.5],[131,31.2],[130,32]],
    [[132.5,33],[134.5,34],[134,33.4]]
  ],
  India: [[[68,23.7],[70,21],[72.7,21],[73,17],[75,12],[77.5,8],[80.2,13],[80.5,15.8],[85,19.5],[87,21.5],[89,21.8],[88.5,26],[90,25.2],[92,25],[91.5,23],[93,22.5],[93,24],[95,25.8],[97.3,27.8],[95.5,28.8],[92,27.8],[92,26.8],[89,26.8],[88.5,27.5],[88,26.5],[84,27.3],[81,28.5],[80,28.8],[81,30.2],[78.8,31],[77.8,35.5],[75,34.5],[74.5,31],[70,28],[71,24.5]]],
  Bangladesh: [[[88.5,26],[89,21.8],[91.8,22.3],[92.5,21],[92.3,23.5],[91.5,25],[90,25.2]]],
  Nepal: [[[80,28.8],[81,30.2],[86,28],[88,27.8],[88,26.5],[84,27.3],[81,28.5]]],
  Bhutan: [[[89,27.5],[92,27.8],[92,26.8],[89,26.8]]],
  SriLanka: [[[79.8,8.5],[80.3,9.8],[81.8,7.5],[80.6,5.9],[80,6.5]]],
  Myanmar: [[[92.3,21],[94,18],[94.3,16],[96,16.5],[97.5,16.5],[98.5,12],[99,10],[99.6,14],[98.5,16],[97.7,18],[100,20.3],[101.2,21.2],[99.5,22],[98,24],[98.5,27.7],[97.3,27.8],[95,25.8],[93,24],[93,22.5]]],
  Thailand: [[[97.7,18],[98.5,16],[99.6,14],[99,10],[98.3,8],[100,6.5],[102,6.2],[100,8.5],[99.3,11],[100.5,13.5],[102.5,12],[102.5,14],[105.5,14.3],[104.5,17.5],[101,17.8],[101,19.5],[100,20.3]]],
  Laos: [[[101.2,21.2],[102,22.4],[104,20.5],[106.5,17.5],[107.5,15],[105.5,14.3],[104.5,17.5],[101,17.8],[101,19.5],[100,20.3]]],
  Vietnam: [[[102,22.4],[106,22.8],[108,21.5],[105.7,19],[108.8,15.5],[109.3,12],[107,10.4],[105,8.7],[104.8,10.5],[106.5,11.5],[107.5,15],[106.5,17.5],[104,20.5]]],
  Cambodia: [[[102.5,12],[103.5,10.6],[104.8,10.5],[106.5,11.5],[107.5,15],[105.5,14.3],[102.5,14]]],
  Malaysia: [
    [[100.2,6.4],[102,6.2],[103.4,4],[104.2,1.4],[101.3,2.8]],
    [[109.7,1.8],[111.3,2.5],[113,3.3],[115,5],[117,7],[119,5.2],[117.5,4.2],[115.5,4.2],[114.5,2],[112,1],[110,1]]
  ],
  Indonesia: [
    [[95.3,5.6],[98,4.2],[103.5,0.5],[106,-3],[105.8,-5.8],[102.3,-4],[98.7,0.5]],
    [[105.3,-6.8],[108.5,-6.5],[112.7,-6.9],[114.5,-8.5],[108,-7.8]],
    [[109,1.5],[109.7,1.8],[110,1],[112,1],[114.5,2],[115.5,4.2],[117.5,4.2],[119,1],[116.5,-1.5],[116,-4],[114.5,-4],[110.2,-3],[109,-0.5]],
    [[119.5,-5.5],[119,-3],[120,1],[125,1.5],[121,0.3],[120.3,-1],[123,-1],[121.5,-2.5],[122.5,-5],[121,-3],[120.4,-5.5]],
    [[116,-8.8],[119,-8.5],[125,-8.5],[123.5,-10.3]],
    [[131,-0.8],[134,-0.8],[135,-3.3],[138,-1.7],[141,-2.6],[141,-9.1],[138,-8.3],[138,-5.5],[133,-4],[132.5,-2.8]],
    [[127.5,1.5],[128,-0.5],[127.5,0.5]]
  ],
  PNG: [
    [[141,-2.6],[145,-4.3],[147.5,-6],[147,-7],[150.5,-10.5],[147,-9.8],[143.5,-8.5],[141,-9.1]],
    [[148,-5.6],[152,-4.2],[151,-6]]
  ],
  Philippines: [
    [[120.5,18.5],[122.2,18.4],[121.7,15],[124,12.7],[120.7,13.8],[120,16]],
    [[122,7],[125.4,9.7],[126.5,7.5],[125.5,5.7],[124,6.5]],
    [[122,11.5],[125,12.5],[125,10],[123,9.5]]
  ],
  Australia: [
    [[114,-22],[113.5,-26],[115,-31.5],[115,-34.3],[118,-35],[123.5,-33.9],[126,-32.3],[131,-31.5],[134,-32.7],[135.7,-34.9],[137.8,-32.7],[137.5,-35.2],[140,-38],[143.5,-38.8],[146.3,-39],[150,-37.5],[151,-34],[153.2,-30],[153.2,-25.5],[149.5,-22],[146,-19],[145.3,-15],[143.5,-14],[142.5,-10.8],[141.5,-13.5],[141,-17],[139,-17.5],[135.5,-15],[136.8,-12.2],[132.5,-11.5],[130,-13],[129.5,-15],[125.5,-14.5],[122,-18],[119,-20]],
    [[145,-40.8],[148.3,-41],[147.5,-43.3],[146,-43.5]]
  ],
  NewZealand: [
    [[172.7,-34.5],[175.5,-37],[178.5,-37.7],[177,-39.5],[175.3,-41.6],[174.7,-38.5]],
    [[172.7,-40.5],[174.3,-41.7],[170.5,-46],[167,-46.2],[170.5,-43]]
  ],
  Fiji: [[[177.3,-17.7],[178.7,-18],[178,-17.3]]],
  Solomon: [[[157,-7.5],[161,-10],[159,-8.2]]]
};

const lakes = [
  [[-92,46.7],[-88,48.7],[-85,47.9],[-84.6,46.5],[-87,46.5]],
  [[-87.8,41.7],[-88,45],[-85,46],[-85,45.5],[-86.5,43.5],[-86.8,41.8]],
  [[-84.5,46],[-81,46],[-80,44.5],[-81.7,43.2],[-82.5,43],[-83.5,43.7],[-83.3,45]],
  [[-83.4,41.6],[-78.9,42.8],[-80,42.9],[-83,42.1]],
  [[-79.7,43.3],[-76.3,43.5],[-76.4,44.1],[-79,43.9]]
];

const svg = d3.select('#chart');

// title block
svg.append('text').attr('x', 5).attr('y', 24)
  .attr('font-size', 21.7).attr('font-weight', 700).attr('fill', '#111').text(titleText);

svg.selectAll('.subtitle').data(subtitleLines).join('text')
  .attr('class', 'subtitle')
  .attr('x', 5).attr('y', (d, i) => 53 + i * 17.5)
  .attr('font-size', 13.83).attr('fill', '#333').text(d => d);

// legend
svg.selectAll('.legend-title').data(legendLines).join('text')
  .attr('class', 'legend-title')
  .attr('x', 5).attr('y', (d, i) => 94 + i * 14)
  .attr('font-size', 11.8).attr('font-weight', 700).attr('fill', '#222').text(d => d);

const legendX = d3.scaleLinear().domain([0, binColors.length]).range([5, 169.5]);

svg.selectAll('.legend-box').data(binColors).join('rect')
  .attr('class', 'legend-box')
  .attr('x', (d, i) => legendX(i))
  .attr('y', 114)
  .attr('width', (d, i) => legendX(i + 1) - legendX(i) - 1)
  .attr('height', 13)
  .attr('fill', d => d);

svg.selectAll('.legend-tick').data(legendTicks).join('text')
  .attr('class', 'legend-tick')
  .attr('x', (d, i) => legendX(i + 1) - 0.5)
  .attr('y', 139.5)
  .attr('text-anchor', 'middle')
  .attr('font-size', 12.2).attr('fill', '#333').text(d => d);

// map
const projection = d3.geoNaturalEarth1().scale(109).translate([299.6, 300]);
const color = d3.scaleThreshold().domain(binLimits).range(binColors);
const ringLine = d3.line();

function ringsToPath(rings) {
  return rings.map(ring => ringLine(ring.map(p => projection(p))) + 'Z').join('');
}

const rows = countries.map((name, i) => ({ name: name, value: co2PerCapita[i] }));

svg.append('g').selectAll('path').data(rows).join('path')
  .attr('d', d => ringsToPath(outlines[d.name]))
  .attr('fill', d => d.value === null ? noDataColor : color(d.value))
  .attr('stroke', '#fff')
  .attr('stroke-opacity', 0.6)
  .attr('stroke-width', 0.5)
  .attr('stroke-linejoin', 'round');

svg.append('path')
  .attr('d', ringsToPath(lakes))
  .attr('fill', '#fff');

// footer
svg.append('text').attr('x', 5).attr('y', 436.5)
  .attr('font-size', 11.95).attr('font-style', 'italic').attr('fill', '#444').text(noteText);

svg.append('text').attr('x', 5).attr('y', 453.5)
  .attr('font-size', 10.83).attr('fill', '#999').text(sourceText);
</script>
</body>
</html>
